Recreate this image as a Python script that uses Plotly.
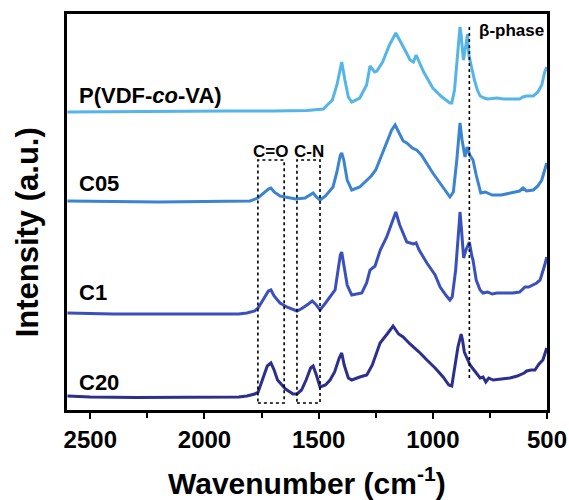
import plotly.graph_objects as go

# ---- data (wavenumber in cm^-1, intensity in a.u., curves vertically offset) ----
wn_p = [2600, 2400, 2200, 1900, 1700, 1550, 1480, 1440, 1420, 1399, 1385, 1370, 1355, 1320, 1290, 1275,
        1255, 1245, 1220, 1190, 1162, 1140, 1115, 1100, 1085, 1073, 1060, 1040, 1000, 960, 925, 917, 905,
        895, 888, 881, 876, 866, 855, 848, 842, 832, 818, 805, 793, 775, 760, 720, 690, 650, 620, 605,
        590, 560, 540, 523, 510, 501]
int_p = [298, 298.5, 299, 299, 299, 299.5, 301, 310, 325, 348, 330, 313, 308, 312, 325, 344,
         338, 339, 348, 365, 377, 368, 357, 350, 348, 355, 348, 338, 322, 313, 307, 307, 320,
         345, 370, 383, 375, 350, 365, 376, 355, 343, 330, 320, 314, 312, 311, 312, 311, 311, 311, 313,
         314, 314, 318, 325, 338, 343]

wn_c05 = [2600, 2450, 2200, 2000, 1850, 1800, 1766, 1740, 1720, 1709, 1695, 1669, 1630, 1600, 1560, 1540,
          1524, 1510, 1494, 1470, 1437, 1420, 1405, 1399, 1390, 1375, 1355, 1320, 1290, 1270, 1250, 1230,
          1200, 1180, 1165, 1150, 1130, 1114, 1090, 1071, 1050, 1000, 960, 925, 910, 895, 881, 872, 859,
          850, 838, 824, 810, 790, 770, 740, 700, 660, 620, 605, 590, 560, 540, 523, 510, 501]
int_c05 = [209, 208.5, 208, 208.5, 209, 209, 212, 217, 221, 222, 218, 214, 212, 211, 212, 215,
           217, 213, 210, 214, 223, 238, 255, 257, 250, 230, 220, 223, 230, 234, 240, 252,
           270, 280, 285, 278, 269, 267, 262, 260, 255, 237, 224, 213, 218, 250, 287, 270, 253,
           263, 255, 250, 235, 217, 218, 215, 215, 217, 219, 222, 219, 220, 224, 230, 240, 247]

wn_c1 = [2600, 2400, 2200, 2000, 1850, 1814, 1780, 1765, 1740, 1720, 1709, 1695, 1669, 1640, 1595, 1570,
         1545, 1528, 1510, 1494, 1470, 1437, 1428, 1415, 1405, 1399, 1390, 1375, 1355, 1311, 1290, 1275,
         1253, 1230, 1202, 1180, 1162, 1145, 1114, 1085, 1073, 1060, 1026, 990, 968, 940, 925, 915, 900,
         885, 881, 875, 865, 855, 840, 830, 824, 810, 793, 780, 760, 740, 720, 700, 677, 650, 620, 596,
         580, 560, 545, 530, 518, 510, 501]
int_c1 = [97, 96, 96, 96, 96, 97, 99, 102, 112, 119, 120, 114, 107, 103, 99, 102,
          106, 109, 105, 100, 107, 117, 120, 140, 155, 158, 145, 125, 115, 117, 127, 140,
          144, 160, 173, 188, 198, 185, 168, 166, 167, 160, 147, 135, 123, 114, 110, 113, 140,
          185, 198, 182, 152, 160, 168, 155, 150, 130, 120, 117, 118, 116, 117, 117, 117, 117, 118, 123,
          123, 125, 127, 130, 138, 145, 153]

wn_c20 = [2600, 2500, 2300, 2000, 1850, 1814, 1780, 1765, 1745, 1725, 1709, 1695, 1680, 1669, 1645, 1612,
          1595, 1575, 1555, 1535, 1524, 1510, 1494, 1470, 1450, 1430, 1410, 1399, 1388, 1370, 1355, 1320,
          1289, 1265, 1231, 1200, 1174, 1150, 1130, 1100, 1060, 1026, 990, 955, 930, 917, 905, 890, 876,
          870, 862, 850, 837, 820, 800, 793, 780, 768, 755, 736, 700, 662, 630, 600, 589, 570, 553, 535,
          518, 501]
int_c20 = [14, 13, 12.5, 12.5, 13, 14, 16, 18, 30, 44, 47, 40, 30, 27, 21, 16,
           16, 20, 30, 42, 44, 35, 23, 25, 30, 38, 52, 57, 45, 32, 30, 33,
           35, 45, 67, 76, 84, 76, 73, 66, 58, 50, 42, 33, 25, 24, 40, 63, 76,
           70, 58, 52, 45, 40, 34, 32, 33, 28, 32, 30, 31, 32, 34, 37, 39, 40, 40, 46,
           50, 62]

series_names = ["P(VDF-<i>co</i>-VA)", "C05", "C1", "C20"]
series_x = [wn_p, wn_c05, wn_c1, wn_c20]
series_y = [int_p, int_c05, int_c1, int_c20]
label_y = [315, 227, 118, 28]
colors = ["#55b5e8", "#3a84d2", "#3a50be", "#2c2f8e"]

major_ticks = [2500, 2000, 1500, 1000, 500]
minor_ticks = [2250, 1750, 1250, 750]

# reference markers (dotted guides)
beta_wn = 840
co_box = (1766, 1651)
cn_box = (1595, 1494)

fig = go.Figure()
for xs, ys, c, name in zip(series_x, series_y, colors, series_names):
    fig.add_trace(go.Scatter(x=xs, y=ys, mode="lines", line=dict(color=c, width=3),
                             name=name, showlegend=False, hoverinfo="skip"))

dot = dict(color="black", width=1.6, dash="dot")
fig.add_shape(type="line", xref="x", yref="y", x0=beta_wn, x1=beta_wn, y0=32, y1=385, line=dot)
for (a, b) in (co_box, cn_box):
    fig.add_shape(type="rect", xref="x", yref="y", x0=a, x1=b, y0=7, y1=250, line=dot)

font_fam = "Liberation Sans, Arial, sans-serif"
for name, ly in zip(series_names, label_y):
    fig.add_annotation(x=2557, y=ly, xref="x", yref="y", text=f"<b>{name}</b>", showarrow=False,
                       xanchor="left", yanchor="middle", font=dict(family=font_fam, size=22, color="black"))

fig.add_annotation(x=806, y=380, xref="x", yref="y", text="<b>β-phase</b>", showarrow=False,
                   xanchor="left", yanchor="middle", font=dict(family=font_fam, size=17, color="black"))
fig.add_annotation(x=1709, y=259, xref="x", yref="y", text="<b>C=O</b>", showarrow=False,
                   xanchor="center", yanchor="middle", font=dict(family=font_fam, size=17, color="black"))
fig.add_annotation(x=1544, y=259, xref="x", yref="y", text="<b>C-N</b>", showarrow=False,
                   xanchor="center", yanchor="middle", font=dict(family=font_fam, size=17, color="black"))

fig.add_annotation(x=0.5, y=-0.179, xref="paper", yref="paper", text="<b>Wavenumber (cm<sup>-1</sup>)</b>",
                   showarrow=False, xanchor="center", yanchor="middle",
                   font=dict(family=font_fam, size=30, color="black"))
fig.add_annotation(x=-0.083, y=0.449, xref="paper", yref="paper", text="<b>Intensity (a.u.)</b>",
                   showarrow=False, xanchor="center", yanchor="middle", textangle=-90,
                   font=dict(family=font_fam, size=31, color="black"))

fig.update_layout(
    width=569, height=500,
    margin=dict(l=67, r=22, t=14, b=90, autoexpand=False),
    paper_bgcolor="white", plot_bgcolor="white",
    xaxis=dict(range=[2602, 500], showgrid=False, zeroline=False, automargin=False,
               showline=True, mirror=True, linecolor="black", linewidth=2.5,
               tickmode="array", tickvals=major_ticks,
               ticktext=[f"<b>{v}</b>" for v in major_ticks],
               ticks="outside", ticklen=6, tickwidth=2, tickcolor="black",
               minor=dict(tickvals=minor_ticks, ticks="outside", ticklen=5,
                          tickwidth=2, tickcolor="black"),
               tickfont=dict(family=font_fam, size=24, color="black")),
    yaxis=dict(range=[0, 396], showgrid=False, zeroline=False, showticklabels=False, ticks="",
               automargin=False,
               showline=True, mirror=True, linecolor="black", linewidth=2.5),
)

fig.write_html("out.html")
